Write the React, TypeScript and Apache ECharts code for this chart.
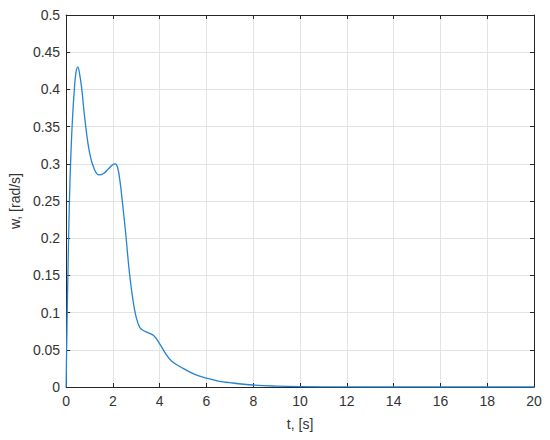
import * as echarts from 'echarts'
import { useEffect, useRef } from 'react'

// time samples, s
const timeSec: number[] = [
	0, 0.02, 0.08, 0.14, 0.2, 0.27, 0.35, 0.42, 0.5, 0.58, 0.67, 0.8, 1.0, 1.2, 1.4, 1.6, 1.8, 2.0, 2.1, 2.2,
	2.3, 2.4, 2.55, 2.7, 2.85, 3.0, 3.15, 3.3, 3.5, 3.75, 4.0, 4.25, 4.5, 5.0, 5.5, 6.0, 6.5, 7.0, 8.0, 9.0,
	10, 12, 14, 16, 18, 20,
]

// angular velocity w, rad/s
const omega: number[] = [
	0, 0.05, 0.16, 0.25, 0.31, 0.36, 0.4, 0.423, 0.43, 0.42, 0.4, 0.36, 0.315, 0.293, 0.285, 0.287, 0.293, 0.299,
	0.3, 0.295, 0.277, 0.25, 0.205, 0.155, 0.118, 0.093, 0.08, 0.076, 0.073, 0.069, 0.058, 0.045, 0.035, 0.025,
	0.017, 0.012, 0.008, 0.0058, 0.0027, 0.0012, 0.0005, 0.0001, 0, 0, 0, 0,
]

const xTicks = { min: 0, max: 20, interval: 2 }
const yTicks = { min: 0, max: 0.5, interval: 0.05 }

const axisColor = '#262626'
const textColor = '#333333'
const gridColor = '#e3e3e3'
const font = 'Liberation Sans, Arial, sans-serif'

function App() {
	const chartRef = useRef<HTMLDivElement>(null)

	useEffect(() => {
		const chart = echarts.init(chartRef.current, null, { renderer: 'svg' })

		// top and right edges of the box: line and inward ticks only
		const boxAxis = {
			axisLine: { show: true, onZero: false, lineStyle: { color: axisColor, width: 1 } },
			axisTick: { show: true, inside: true, length: 4, lineStyle: { color: axisColor } },
			axisLabel: { show: false },
			splitLine: { show: false },
		}

		chart.setOption({
			animation: false,
			backgroundColor: '#ffffff',
			grid: { left: 63, right: 16, top: 15, bottom: 53 },
			xAxis: [
				{
					type: 'value',
					...xTicks,
					name: 't, [s]',
					nameLocation: 'middle',
					nameGap: 30,
					nameTextStyle: { color: textColor, fontSize: 14, fontFamily: font },
					axisLine: { show: true, onZero: false, lineStyle: { color: axisColor, width: 1 } },
					axisTick: { show: true, inside: true, length: 4, lineStyle: { color: axisColor } },
					axisLabel: { color: textColor, fontSize: 14, fontFamily: font, margin: 7 },
					splitLine: { show: true, lineStyle: { color: gridColor, width: 1 } },
				},
				{ type: 'value', position: 'top', ...xTicks, ...boxAxis },
			],
			yAxis: [
				{
					type: 'value',
					...yTicks,
					name: 'w, [rad/s]',
					nameLocation: 'middle',
					nameGap: 43,
					nameTextStyle: { color: textColor, fontSize: 14, fontFamily: font },
					axisLine: { show: true, onZero: false, lineStyle: { color: axisColor, width: 1 } },
					axisTick: { show: true, inside: true, length: 4, lineStyle: { color: axisColor } },
					axisLabel: { color: textColor, fontSize: 14, fontFamily: font, margin: 6 },
					splitLine: { show: true, lineStyle: { color: gridColor, width: 1 } },
				},
				{ type: 'value', position: 'right', ...yTicks, ...boxAxis },
			],
			series: [
				{
					type: 'line',
					xAxisIndex: 0,
					yAxisIndex: 0,
					data: timeSec.map((t, i) => [t, omega[i]]),
					showSymbol: false,
					smooth: 0.4,
					lineStyle: { color: '#2384d4', width: 1.3 },
				},
			],
		})

		return () => {
			chart.dispose()
		}
	}, [])

	return (
		<div
			ref={chartRef}
			style={{ position: 'absolute', left: 0, top: 0, width: '550px', height: '440px' }}
		/>
	)
}

export default App
